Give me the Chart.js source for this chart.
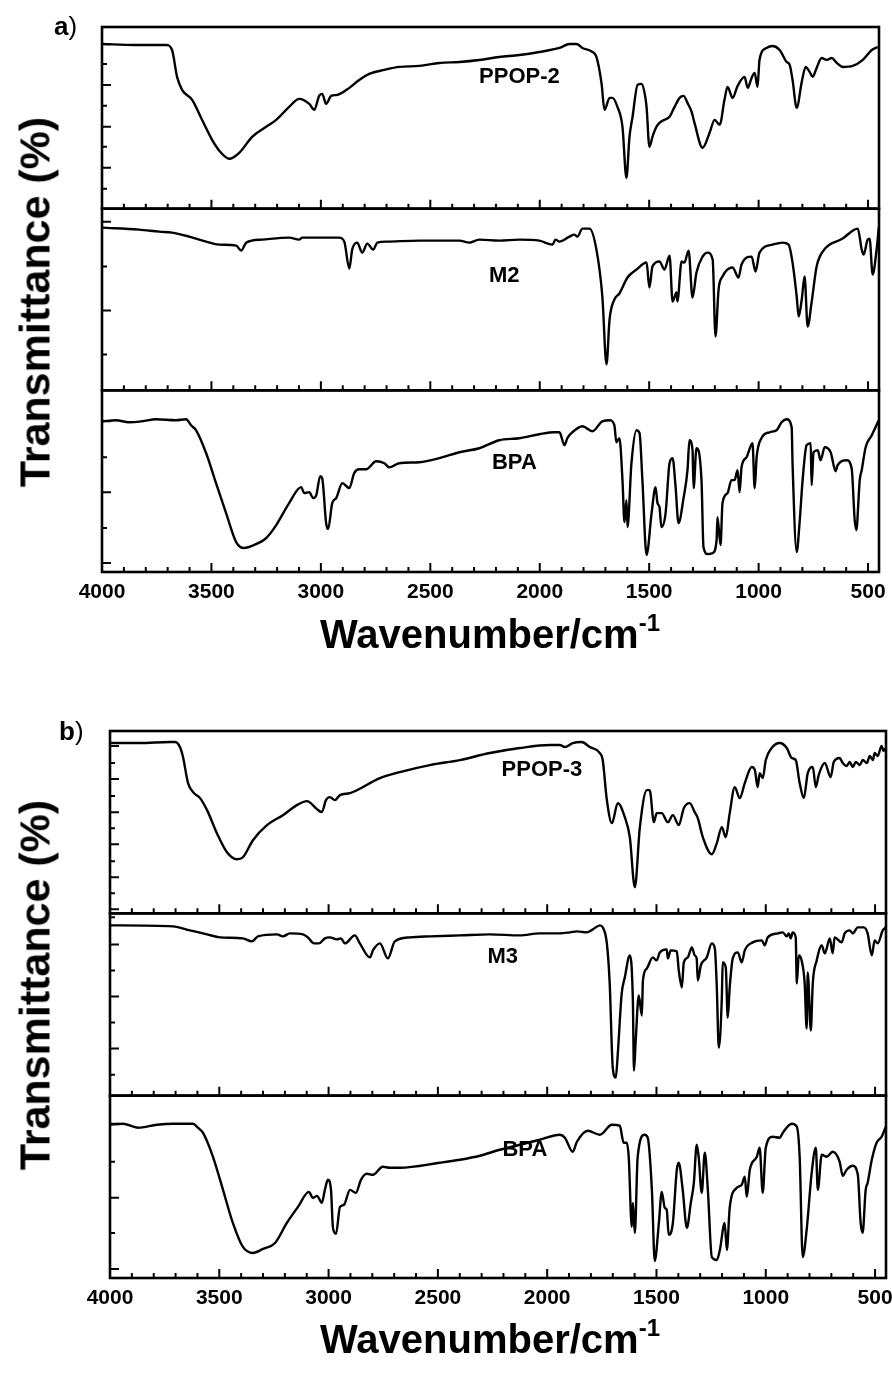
<!DOCTYPE html>
<html>
<head>
<meta charset="utf-8">
<title>FTIR spectra</title>
<script src="https://cdn.jsdelivr.net/npm/chart.js@4.4.1/dist/chart.umd.min.js"></script>
<style>
  body { margin: 0; background: #fff; font-family: "Liberation Sans", Arial, Helvetica, sans-serif; color: #000; }
  #page { position: relative; width: 892px; height: 1380px; overflow: hidden; background: #fff; }
  .panel { position: absolute; left: 0; width: 892px; height: 690px; }
  .panel canvas { position: absolute; left: 0; top: 0; }
  .tag { position: absolute; font-size: 26px; line-height: 1; white-space: nowrap; }
  .tag b { font-weight: bold; }
  .ytitle { position: absolute; font-weight: bold; font-size: 43px; line-height: 1; white-space: nowrap;
            transform: translate(-50%, -50%) rotate(-90deg); }
  .xtitle { position: absolute; font-weight: bold; font-size: 40px; line-height: 1; white-space: nowrap;
            transform: translateX(-50%); }
  .xtitle .sup { font-size: 24px; vertical-align: 17px; }
</style>
</head>
<body>
<div id="page">
  <div class="panel" style="top:0">
    <canvas id="chartA" width="892" height="690"></canvas>
  </div>
  <div class="panel" style="top:690px">
    <canvas id="chartB" width="892" height="690"></canvas>
  </div>

  <div class="tag" style="left:54px; top:13px"><b>a</b>)</div>
  <div class="tag" style="left:59px; top:718px"><b>b</b>)</div>
  <div class="ytitle" style="left:35px; top:302px">Transmittance (%)</div>
  <div class="ytitle" style="left:35px; top:985px">Transmittance (%)</div>
  <div class="xtitle" style="left:490px; top:611px">Wavenumber/cm<span class="sup">-1</span></div>
  <div class="xtitle" style="left:490px; top:1316px">Wavenumber/cm<span class="sup">-1</span></div>
</div>

<script>
// wavenumber axis (cm-1), drawn high -> low
const xMajorTicks = [4000, 3500, 3000, 2500, 2000, 1500, 1000, 500];
const xMinorTicks = [];
for (let w = 4000; w >= 500; w -= 100) xMinorTicks.push(w);

// spectra: [wavenumber, transmittance (a.u., offset per trace)]
const specPPOP2 = [[4000,165],[3850,164],[3707,164],[3680,159],[3657,132],[3634,119],[3588,109],[3543,89],
  [3497,69],[3456,56],[3419,50],[3373,56],[3314,72],[3250,82],[3204,89],[3145,102],[3099,110],[3053,105],
  [3030,99],[3008,113],[2994,115],[2976,105],[2953,113],[2925,114],[2870,121],[2825,129],[2779,135],
  [2710,139],[2642,142],[2550,143],[2459,146],[2367,147],[2276,149],[2185,152],[2093,154],[2002,157],
  [1910,161],[1864,165],[1832,165],[1805,161],[1759,157],[1741,152],[1718,126],[1704,99],[1681,111],
  [1668,111],[1645,102],[1622,82],[1604,31],[1590,72],[1576,92],[1553,124],[1535,125],[1521,116],
  [1512,102],[1499,62],[1485,72],[1467,82],[1453,86],[1430,89],[1407,92],[1384,102],[1361,111],
  [1343,113],[1325,106],[1306,97],[1293,86],[1256,61],[1224,76],[1201,89],[1178,84],[1156,109],
  [1142,122],[1119,111],[1096,123],[1064,132],[1050,121],[1032,131],[1018,136],[1005,122],[996,149],
  [964,161],[936,163],[904,159],[872,147],[858,144],[845,129],[826,101],[803,127],[785,142],[767,137],
  [753,132],[735,141],[712,151],[689,149],[666,151],[643,146],[616,142],[570,143],[524,149],[483,159],
  [456,162]];

const specM2 = [[4000,163],[3831,161],[3739,159],[3680,158],[3602,154],[3524,149],[3465,146],[3387,145],
  [3364,140],[3341,148],[3268,151],[3145,153],[3099,151],[3085,153],[2916,153],[2893,149],[2870,122],
  [2857,141],[2834,148],[2811,138],[2788,147],[2761,141],[2742,148],[2697,149],[2550,150],[2367,150],
  [2322,148],[2276,151],[2185,150],[2093,151],[2002,150],[1942,146],[1928,151],[1910,149],[1864,154],
  [1842,156],[1828,154],[1805,162],[1773,162],[1741,141],[1714,94],[1695,26],[1681,71],[1659,91],
  [1636,97],[1599,113],[1558,121],[1512,128],[1499,103],[1485,124],[1453,129],[1430,121],[1407,135],
  [1393,89],[1375,98],[1371,89],[1352,129],[1339,128],[1320,140],[1302,93],[1284,118],[1256,134],
  [1233,138],[1210,131],[1197,54],[1183,101],[1165,114],[1119,123],[1092,113],[1078,126],[1032,134],
  [1014,119],[996,138],[936,146],[890,148],[863,146],[845,128],[826,94],[817,74],[803,91],[790,114],
  [776,64],[758,88],[735,124],[707,139],[616,152],[547,162],[529,141],[520,136],[502,151],[493,152],
  [479,116],[461,141],[451,163]];

const specBPA1 = [[4000,151],[3936,152],[3877,150],[3817,151],[3753,153],[3662,152],[3616,153],[3593,147],
  [3570,142],[3524,119],[3479,89],[3433,59],[3387,30],[3351,24],[3305,27],[3250,34],[3204,47],[3145,69],
  [3090,85],[3076,79],[3053,80],[3035,74],[3021,77],[3003,96],[2994,94],[2976,49],[2967,43],[2948,69],
  [2930,74],[2902,89],[2870,84],[2848,99],[2825,103],[2793,103],[2747,111],[2710,109],[2688,105],
  [2642,109],[2550,110],[2459,114],[2367,120],[2276,124],[2185,132],[2093,134],[2002,138],[1933,140],
  [1910,140],[1887,127],[1874,134],[1851,140],[1805,146],[1759,141],[1714,151],[1681,152],[1659,147],
  [1650,130],[1636,134],[1622,92],[1613,50],[1604,72],[1599,45],[1581,109],[1558,142],[1544,139],
  [1531,92],[1512,17],[1489,59],[1471,85],[1462,69],[1453,65],[1444,45],[1425,59],[1407,109],[1393,114],
  [1380,87],[1366,49],[1343,74],[1325,102],[1316,132],[1302,122],[1297,84],[1284,124],[1261,92],
  [1252,25],[1233,18],[1210,19],[1192,32],[1188,55],[1174,27],[1165,69],[1142,79],[1124,92],[1110,92],
  [1096,102],[1087,80],[1078,105],[1055,115],[1028,129],[1018,84],[1009,115],[987,134],[950,140],
  [918,142],[895,150],[872,153],[849,145],[845,109],[826,20],[813,49],[799,92],[781,127],[762,129],
  [758,87],[749,120],[730,122],[717,112],[698,125],[671,120],[648,101],[639,107],[598,112],[575,104],
  [561,52],[552,42],[547,59],[538,92],[529,102],[511,125],[483,137],[451,152]];

const specPPOP3 = [[4000,170],[3863,170],[3726,171],[3703,171],[3680,166],[3666,156],[3643,130],[3620,121],
  [3588,115],[3556,103],[3511,80],[3465,61],[3419,54],[3392,56],[3346,73],[3282,88],[3209,98],[3145,108],
  [3099,112],[3053,104],[3031,101],[3012,113],[2994,116],[2971,113],[2948,118],[2902,120],[2765,135],
  [2674,141],[2537,148],[2399,153],[2262,160],[2125,165],[1988,168],[1942,168],[1919,166],[1883,170],
  [1842,171],[1805,166],[1759,160],[1746,153],[1727,113],[1704,90],[1677,110],[1645,96],[1622,76],
  [1599,26],[1576,86],[1544,123],[1531,123],[1512,91],[1499,100],[1476,100],[1448,91],[1425,98],
  [1398,88],[1375,105],[1348,110],[1325,101],[1311,95],[1288,76],[1247,59],[1224,70],[1201,86],
  [1183,76],[1165,100],[1142,126],[1119,115],[1096,130],[1064,146],[1050,143],[1037,126],[1028,140],
  [1014,135],[1000,153],[973,165],[936,170],[904,165],[881,155],[863,153],[845,130],[826,115],[808,140],
  [785,146],[771,126],[758,138],[730,150],[703,136],[689,151],[662,155],[648,150],[630,147],[616,151],
  [602,146],[588,151],[570,148],[556,153],[538,150],[524,157],[510,153],[502,160],[488,157],[470,167],
  [462,162],[456,165]];

const specM3 = [[4000,170],[3712,169],[3634,165],[3556,161],[3497,158],[3392,157],[3351,154],[3323,159],
  [3236,161],[3209,159],[3177,162],[3117,161],[3095,158],[3067,152],[3044,152],[3017,157],[2994,158],
  [2962,156],[2944,157],[2925,152],[2880,160],[2857,152],[2811,138],[2797,145],[2765,152],[2729,137],
  [2697,154],[2628,158],[2537,159],[2399,160],[2262,161],[2125,160],[2034,162],[1942,162],[1896,163],
  [1864,164],[1819,163],[1791,166],[1759,170],[1746,168],[1727,152],[1714,112],[1700,28],[1686,18],
  [1677,42],[1659,102],[1645,118],[1622,140],[1608,95],[1603,25],[1595,55],[1581,100],[1567,80],
  [1562,115],[1544,127],[1517,138],[1499,135],[1485,143],[1453,146],[1448,137],[1435,145],[1407,144],
  [1398,125],[1384,108],[1375,133],[1357,138],[1338,148],[1325,140],[1316,137],[1311,115],[1297,130],
  [1270,138],[1247,152],[1233,147],[1224,108],[1215,48],[1201,98],[1197,133],[1183,128],[1174,78],
  [1165,108],[1151,137],[1128,143],[1110,133],[1096,145],[1060,153],[1018,155],[1005,150],[991,158],
  [945,162],[922,163],[904,159],[895,162],[886,157],[877,163],[863,158],[858,112],[849,140],[836,135],
  [822,112],[813,67],[808,123],[794,65],[785,112],[767,135],[744,150],[730,142],[707,157],[694,142],
  [685,158],[653,153],[639,162],[616,165],[602,162],[579,168],[552,168],[534,162],[515,140],[502,155],
  [488,152],[465,165],[451,168]];

const specBPA2 = [[4000,153],[3941,154],[3872,150],[3785,153],[3712,154],[3620,154],[3598,150],[3575,145],
  [3529,121],[3483,88],[3438,55],[3392,31],[3346,25],[3300,29],[3245,35],[3191,55],[3140,71],[3090,86],
  [3072,80],[3053,82],[3031,75],[3017,88],[3003,98],[2989,88],[2980,50],[2966,44],[2948,71],[2930,73],
  [2902,88],[2875,85],[2852,98],[2825,104],[2797,103],[2752,111],[2720,110],[2674,110],[2491,115],
  [2399,118],[2308,122],[2217,128],[2125,133],[2034,138],[1942,143],[1919,140],[1883,126],[1864,136],
  [1814,147],[1759,143],[1704,153],[1668,152],[1650,135],[1636,135],[1627,121],[1613,51],[1608,75],
  [1599,45],[1586,121],[1554,143],[1540,140],[1521,88],[1508,17],[1489,55],[1476,86],[1462,70],
  [1453,68],[1444,43],[1425,55],[1407,108],[1398,115],[1380,88],[1361,50],[1343,75],[1329,95],
  [1316,133],[1307,121],[1293,85],[1279,125],[1265,88],[1247,21],[1224,18],[1210,28],[1188,55],
  [1178,28],[1165,70],[1133,90],[1110,93],[1096,101],[1087,81],[1073,108],[1041,121],[1028,130],
  [1014,85],[1000,130],[968,141],[936,140],[922,145],[881,154],[858,151],[845,121],[831,21],[813,48],
  [790,105],[771,130],[762,88],[744,123],[721,121],[694,126],[662,116],[648,102],[630,108],[602,112],
  [579,103],[566,55],[557,45],[543,88],[534,95],[515,118],[493,135],[470,141],[451,151]];

// left-axis tick marks for each trace (no labels)
const yMajorPPOP2 = [165, 124, 82, 41];
const yMinorPPOP2 = [145, 103, 62, 20];
const yMajorM2 = [169, 80];
const yMinorM2 = [124, 36];
const yMajorBPA1 = [151, 80, 9];
const yMinorBPA1 = [115, 44];
const yMajorPPOP3 = [167, 134, 101, 69, 36, 4];
const yMinorPPOP3 = [150, 117, 85, 52, 20];
const yMajorM3 = [151, 99, 47];
const yMinorM3 = [178, 125, 73, 21];
const yMajorBPA2 = [154, 80, 9];
const yMinorBPA2 = [116, 45];

const FONT = "'Liberation Sans', Arial, Helvetica, sans-serif";
const BAND_MAX = 182;

// frame, inward ticks and trace names, drawn on top of the spectra
function framePlugin(bands) {
  return {
    id: 'frame',
    afterDatasetsDraw(chart) {
      const { ctx, chartArea, scales } = chart;
      const xs = scales.x;
      ctx.save();
      ctx.strokeStyle = '#000';
      ctx.fillStyle = '#000';
      bands.forEach((b) => {
        const ys = scales[b.id];
        ctx.lineWidth = 2;
        ctx.beginPath();
        xMinorTicks.forEach((w) => {
          const px = xs.getPixelForValue(w);
          const len = xMajorTicks.includes(w) ? 9 : 5;
          ctx.moveTo(px, ys.bottom);
          ctx.lineTo(px, ys.bottom - len);
        });
        b.yMajor.forEach((v) => {
          const py = ys.getPixelForValue(v);
          ctx.moveTo(chartArea.left, py);
          ctx.lineTo(chartArea.left + 9, py);
        });
        b.yMinor.forEach((v) => {
          const py = ys.getPixelForValue(v);
          ctx.moveTo(chartArea.left, py);
          ctx.lineTo(chartArea.left + 5, py);
        });
        ctx.stroke();

        ctx.lineWidth = 2.6;
        ctx.strokeRect(chartArea.left, ys.top, chartArea.right - chartArea.left, ys.bottom - ys.top);

        ctx.font = `bold 22px ${FONT}`;
        ctx.textAlign = 'center';
        ctx.textBaseline = 'middle';
        ctx.fillText(b.name, xs.getPixelForValue(b.labelAt[0]), ys.getPixelForValue(b.labelAt[1]));
      });
      ctx.restore();
    },
  };
}

function buildPanel(canvasId, bands, area) {
  const datasets = bands.map((b) => ({
    label: b.name,
    data: b.data.map(([x, y]) => ({ x, y })),
    yAxisID: b.id,
    borderColor: '#000',
    borderWidth: 2.4,
    pointRadius: 0,
    fill: false,
    cubicInterpolationMode: 'monotone',
  }));

  const scales = {
    x: {
      type: 'linear',
      reverse: true,
      min: 450,
      max: 4000,
      afterBuildTicks: (s) => { s.ticks = xMajorTicks.map((v) => ({ value: v })); },
      afterFit: (s) => { s.height = area.xAxisHeight; s.paddingLeft = 0; s.paddingRight = 0; },
      grid: { display: false, drawTicks: false },
      border: { display: false },
      ticks: {
        color: '#000',
        padding: 8,
        maxRotation: 0,
        autoSkip: false,
        font: { family: FONT, size: 21, weight: 'bold' },
        callback: (v) => String(v),
      },
    },
  };

  // one y axis per trace, stacked top to bottom (higher weight sits higher)
  bands.forEach((b, i) => {
    scales[b.id] = {
      type: 'linear',
      position: 'left',
      stack: 'traces',
      stackWeight: 1,
      weight: bands.length - i,
      min: 0,
      max: BAND_MAX,
      grid: { display: false, drawTicks: false },
      border: { display: false },
      ticks: { display: false },
      afterFit: (s) => { s.width = 0; },
    };
  });

  return new Chart(document.getElementById(canvasId), {
    type: 'line',
    data: { datasets },
    options: {
      responsive: false,
      animation: false,
      events: [],
      layout: { padding: { left: area.left, right: area.right, top: area.top, bottom: 0 } },
      plugins: { legend: { display: false }, tooltip: { enabled: false } },
      scales,
    },
    plugins: [framePlugin(bands)],
  });
}

buildPanel('chartA', [
  { id: 'y1', name: 'PPOP-2', data: specPPOP2, yMajor: yMajorPPOP2, yMinor: yMinorPPOP2, labelAt: [2093, 132] },
  { id: 'y2', name: 'M2', data: specM2, yMajor: yMajorM2, yMinor: yMinorM2, labelAt: [2162, 115] },
  { id: 'y3', name: 'BPA', data: specBPA1, yMajor: yMajorBPA1, yMinor: yMinorBPA1, labelAt: [2116, 109] },
], { left: 102, right: 13, top: 27, xAxisHeight: 118 });

buildPanel('chartB', [
  { id: 'y1', name: 'PPOP-3', data: specPPOP3, yMajor: yMajorPPOP3, yMinor: yMinorPPOP3, labelAt: [2024, 143] },
  { id: 'y2', name: 'M3', data: specM3, yMajor: yMajorM3, yMinor: yMinorM3, labelAt: [2203, 138] },
  { id: 'y3', name: 'BPA', data: specBPA2, yMajor: yMajorBPA2, yMinor: yMinorBPA2, labelAt: [2102, 128] },
], { left: 110, right: 6, top: 41, xAxisHeight: 102 });
</script>
</body>
</html>
